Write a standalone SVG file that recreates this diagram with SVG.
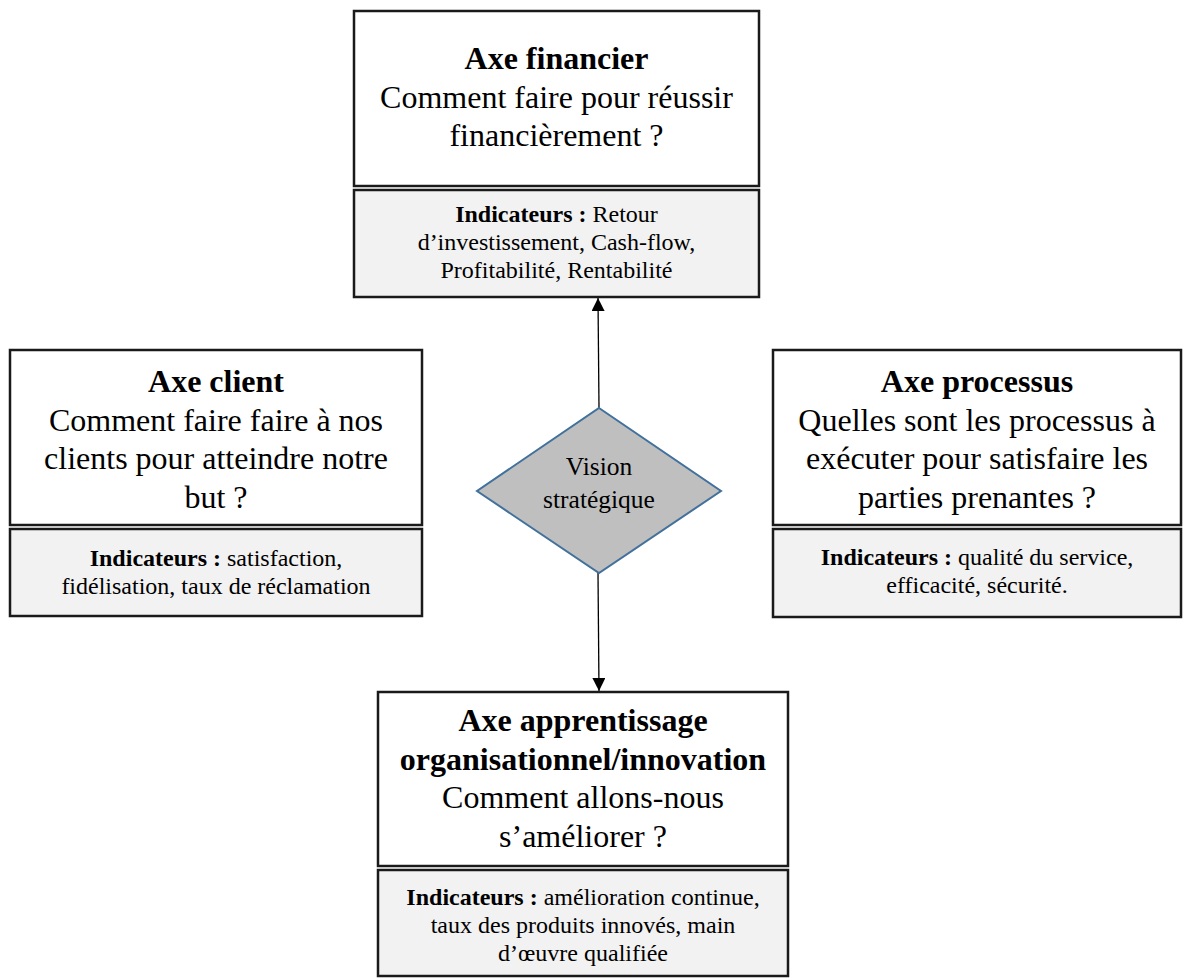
<svg xmlns="http://www.w3.org/2000/svg" width="1183" height="979" viewBox="0 0 1183 979">
  <style>
    .box { fill: #ffffff; stroke: #1a1a1a; stroke-width: 2.5; }
    .ind { fill: #f2f2f2; stroke: #1a1a1a; stroke-width: 2.5; }
    .t { font-family: "Liberation Serif", "Times New Roman", serif; fill: #000; text-anchor: middle; }
    .big { font-size: 32px; }
    .small { font-size: 24px; }
    .b { font-weight: bold; }
    .diamond { fill: #bfbfbf; stroke: #41719c; stroke-width: 2; }
    .link { stroke: #000; stroke-width: 1.3; fill: none; marker-end: url(#arrow); }
  </style>
  <defs>
    <marker id="arrow" viewBox="0 0 10 10" refX="10" refY="5" markerWidth="14" markerHeight="13" markerUnits="userSpaceOnUse" orient="auto">
      <path d="M0,0 L10,5 L0,10 Z" fill="#000"/>
    </marker>
  </defs>
  <rect width="1183" height="979" fill="#ffffff"/>

  <!-- connectors -->
  <g id="connectors">
    <line class="link" x1="599" y1="408" x2="598" y2="298"/>
    <line class="link" x1="598" y1="573" x2="599" y2="691"/>
  </g>

  <!-- financial axis -->
  <g id="axe-financier">
    <rect class="box" x="354" y="11" width="405" height="175"/>
    <text class="t big b" x="556.5" y="69">Axe financier</text>
    <text class="t big" x="556.5" y="107.5">Comment faire pour réussir</text>
    <text class="t big" x="556.5" y="146">financièrement ?</text>
    <rect class="ind" x="354" y="190" width="405" height="107"/>
    <text class="t small" x="556.5" y="222"><tspan class="b">Indicateurs :</tspan> Retour</text>
    <text class="t small" x="556.5" y="250">d’investissement, Cash-flow,</text>
    <text class="t small" x="556.5" y="278">Profitabilité, Rentabilité</text>
  </g>

  <!-- customer axis -->
  <g id="axe-client">
    <rect class="box" x="10" y="350" width="412" height="175"/>
    <text class="t big b" x="216" y="392">Axe client</text>
    <text class="t big" x="216" y="430.5">Comment faire faire à nos</text>
    <text class="t big" x="216" y="469">clients pour atteindre notre</text>
    <text class="t big" x="216" y="507.5">but ?</text>
    <rect class="ind" x="10" y="529" width="412" height="87"/>
    <text class="t small" x="216" y="566"><tspan class="b">Indicateurs :</tspan> satisfaction,</text>
    <text class="t small" x="216" y="594">fidélisation, taux de réclamation</text>
  </g>

  <!-- process axis -->
  <g id="axe-processus">
    <rect class="box" x="773" y="350" width="408" height="175"/>
    <text class="t big b" x="977" y="392">Axe processus</text>
    <text class="t big" x="977" y="430.5">Quelles sont les processus à</text>
    <text class="t big" x="977" y="469">exécuter pour satisfaire les</text>
    <text class="t big" x="977" y="507.5">parties prenantes ?</text>
    <rect class="ind" x="773" y="529" width="408" height="88"/>
    <text class="t small" x="977" y="565"><tspan class="b">Indicateurs :</tspan> qualité du service,</text>
    <text class="t small" x="977" y="593">efficacité, sécurité.</text>
  </g>

  <!-- central vision -->
  <g id="vision">
    <polygon class="diamond" points="599,408 721,491 599,573 477,491"/>
    <text class="t" style="font-size:25.5px" x="599" y="475">Vision</text>
    <text class="t" style="font-size:25.5px" x="599" y="508">stratégique</text>
  </g>

  <!-- learning / innovation axis -->
  <g id="axe-apprentissage">
    <rect class="box" x="378" y="692" width="410" height="174"/>
    <text class="t big b" x="583" y="731">Axe apprentissage</text>
    <text class="t big b" x="583" y="769.5">organisationnel/innovation</text>
    <text class="t big" x="583" y="808">Comment allons-nous</text>
    <text class="t big" x="583" y="846.5">s’améliorer ?</text>
    <rect class="ind" x="378" y="870" width="410" height="106"/>
    <text class="t small" x="583" y="905"><tspan class="b">Indicateurs :</tspan> amélioration continue,</text>
    <text class="t small" x="583" y="933">taux des produits innovés, main</text>
    <text class="t small" x="583" y="961">d’œuvre qualifiée</text>
  </g>
</svg>
